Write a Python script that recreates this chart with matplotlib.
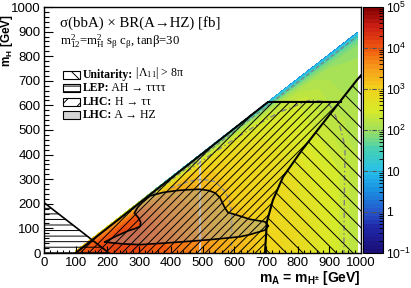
import numpy as np
import matplotlib
matplotlib.use("Agg")
import matplotlib.pyplot as plt
from matplotlib.colors import LinearSegmentedColormap
from matplotlib.patches import Rectangle
from matplotlib.collections import LineCollection
from matplotlib.transforms import IdentityTransform
from matplotlib.ticker import MultipleLocator, FixedLocator

plt.rcParams['font.family'] = 'Liberation Sans'
plt.rcParams['mathtext.default'] = 'regular'
plt.rcParams['hatch.linewidth'] = 0.7

# heat map nodes: columns are m_A, rows are the gap m_A - m_H (GeV)
mA_nodes = [100, 150, 200, 250, 300, 400, 500, 600, 700, 800, 900, 990]
gap_nodes = [92, 98, 108, 125, 150, 200, 300, 400, 500, 600, 700, 800, 900, 990]
# log10( sigma x BR / fb )
log10_xsec = [
    [3.0, 2.9, 2.6, 2.3, 2.0, 1.3, 1.0, 0.8, 0.6, 0.5, 0.4, 0.4],
    [3.6, 3.4, 3.1, 2.8, 2.5, 1.8, 1.5, 1.3, 1.1, 1.0, 0.9, 0.9],
    [3.9, 3.8, 3.6, 3.4, 3.1, 2.4, 2.1, 1.8, 1.6, 1.5, 1.4, 1.3],
    [4.1, 4.0, 3.9, 3.8, 3.7, 3.0, 2.6, 2.3, 2.1, 1.9, 1.8, 1.7],
    [4.1, 4.1, 4.1, 4.1, 4.0, 3.4, 3.0, 2.7, 2.4, 2.2, 2.0, 1.9],
    [4.1, 4.2, 4.2, 4.2, 4.1, 3.6, 3.2, 2.9, 2.6, 2.4, 2.1, 2.0],
    [4.1, 4.2, 4.2, 4.2, 4.1, 3.8, 3.4, 3.0, 2.8, 2.5, 2.2, 2.0],
    [4.1, 4.2, 4.2, 4.2, 4.1, 3.9, 3.5, 3.1, 2.9, 2.6, 2.3, 2.1],
    [4.1, 4.2, 4.2, 4.2, 4.1, 3.9, 3.6, 3.2, 3.0, 2.7, 2.4, 2.1],
    [4.1, 4.2, 4.2, 4.2, 4.1, 3.9, 3.6, 3.3, 3.0, 2.7, 2.5, 2.2],
    [4.1, 4.2, 4.2, 4.2, 4.1, 3.9, 3.6, 3.3, 3.0, 2.8, 2.5, 2.2],
    [4.1, 4.2, 4.2, 4.2, 4.1, 3.9, 3.6, 3.3, 3.0, 2.8, 2.5, 2.2],
    [4.1, 4.2, 4.2, 4.2, 4.1, 3.9, 3.6, 3.3, 3.0, 2.8, 2.5, 2.2],
    [4.1, 4.2, 4.2, 4.2, 4.1, 3.9, 3.6, 3.3, 3.0, 2.8, 2.5, 2.2],
]

# palette (position in the -1..5 decade range)
pal_pos = [0.0, 0.1, 0.17, 0.25, 0.33, 0.42, 0.5, 0.58, 0.67, 0.75, 0.83, 0.92, 1.0]
pal_col = ['#1a0d73', '#1f26a6', '#2659cc', '#1a8ce0', '#26bfeb', '#45cfb4',
           '#a0e05c', '#d8ea2a', '#f2d21a', '#f79e1a', '#f2590f', '#cc1f14', '#800000']

# exclusion regions
lep_mA = [0, 0, 205]
lep_mH = [0, 205, 0]
unit_mA = [697, 700, 703, 722, 754, 814, 893, 987, 1000]
unit_mH = [0, 60, 126, 215, 309, 419, 549, 703, 722]
tautau_mA = [100, 707, 937]
tautau_mH = [0, 614, 614]
hz_mA = [192, 230, 265, 285, 303, 305, 297, 285, 295, 310, 334, 375, 420, 451, 492, 520,
         540, 555, 570, 580, 609, 650, 697, 708, 697, 650, 618, 514, 400, 303, 250, 210]
hz_mH = [45, 70, 90, 98, 108, 125, 145, 162, 185, 205, 232, 246, 254, 257, 259, 254,
         244, 225, 185, 165, 154, 137, 127, 110, 93, 75, 66, 53, 42, 34, 37, 42]

# grey expected / auxiliary curves
exp_hz_mA = [400, 460, 500, 540, 571, 587, 592, 592]
exp_hz_mH = [265, 292, 300, 290, 250, 205, 150, 0]
exp_tt_mA = [450, 533, 596, 681, 744, 839, 893, 912, 934, 950, 948, 946]
exp_tt_mH = [330, 406, 459, 528, 573, 622, 614, 581, 512, 431, 300, 0]
edge_mA = [250, 985]
edge_mH = [145, 878]
vline_mA = [492, 492]
vline_mH = [0, 395]

fig = plt.figure(figsize=(4.11, 2.88), dpi=100)
ax = fig.add_axes([44 / 411, 35 / 288, 317 / 411, 246 / 288])
cax = fig.add_axes([363 / 411, 35 / 288, 20 / 411, 246 / 288])

cmap = LinearSegmentedColormap.from_list('rb', list(zip(pal_pos, pal_col)))
X, G = np.meshgrid(mA_nodes, gap_nodes)
Y = X - G
levels = np.linspace(-1, 5, 61)
cs = ax.contourf(X, Y, np.array(log10_xsec), levels=levels, cmap=cmap, zorder=1)

# grey curves
ax.plot(vline_mA, vline_mH, color='#d0d0d0', lw=1.4, zorder=2)
ax.plot(edge_mA, edge_mH, color='#808080', lw=0.9, ls=(0, (3, 2)), zorder=2)
ax.plot(exp_hz_mA, exp_hz_mH, color='#909090', lw=1.0, ls=(0, (3, 2)), zorder=2)
ax.plot(exp_tt_mA, exp_tt_mH, color='#808080', lw=1.0, ls=(0, (4, 2, 1, 2)), zorder=2)

# LHC A -> HZ
ax.fill(hz_mA, hz_mH, facecolor='#a0a0a0', alpha=0.45, edgecolor='none', zorder=3)

# LHC H -> tautau (region between the diagonal and the unitarity curve),
# hatched with 45 degree lines clipped to the region
tt_x = list(tautau_mA) + [a for a, h in zip(unit_mA[::-1], unit_mH[::-1]) if h < 614]
tt_y = list(tautau_mH) + [h for h in unit_mH[::-1] if h < 614]
tt_patch = ax.fill(tt_x, tt_y, facecolor='none', edgecolor='none', zorder=4)[0]
W, H = fig.bbox.width, fig.bbox.height
offs = np.arange(-H, W, fig.dpi / 12)
segs = [[(o, 0), (o + H, H)] for o in offs]
lc = LineCollection(segs, colors='black', linewidths=0.7, transform=IdentityTransform(), zorder=4)
ax.add_collection(lc, autolim=False)
lc.set_clip_path(tt_patch)

# unitarity
ax.fill(unit_mA + [1000], unit_mH + [0], facecolor='none', edgecolor='black',
        linewidth=0, hatch='\\\\', zorder=4)

# LEP
ax.fill(lep_mA, lep_mH, facecolor='none', edgecolor='black', linewidth=0, hatch='---', zorder=4)

ax.plot(hz_mA + hz_mA[:1], hz_mH + hz_mH[:1], color='black', lw=1.2, zorder=5)
ax.plot(tautau_mA, tautau_mH, color='black', lw=1.5, zorder=5)
ax.plot(unit_mA, unit_mH, color='black', lw=1.5, zorder=5)
ax.plot(lep_mA[1:], lep_mH[1:], color='black', lw=1.2, zorder=5)

ax.set_xlim(0, 1000)
ax.set_ylim(0, 1000)
ax.xaxis.set_major_locator(MultipleLocator(100))
ax.xaxis.set_minor_locator(MultipleLocator(20))
ax.yaxis.set_major_locator(MultipleLocator(100))
ax.yaxis.set_minor_locator(MultipleLocator(20))
ax.tick_params(axis='x', which='major', direction='in', length=5, width=0.8, pad=3, labelsize=9.5)
ax.tick_params(axis='x', which='minor', direction='in', length=2.5, width=0.8)
ax.tick_params(axis='y', which='major', direction='in', length=6.5, width=0.8, pad=2.5, labelsize=9.5)
ax.tick_params(axis='y', which='minor', direction='in', length=3.5, width=0.8)
for s in ax.spines.values():
    s.set_linewidth(1.0)

fig.text(361 / 411, 10 / 288, 'm$_{A}$ = m$_{H^{\\pm}}$ [GeV]', ha='right', va='center',
         fontsize=10, fontweight='bold')
fig.text(7.0 / 411, 274 / 288, 'm$_{H}$ [GeV]', ha='center', va='top', rotation=90,
         fontsize=8.5, fontweight='bold')

# text block and legend
serif = 'Liberation Serif'
ax.text(0.05, 0.935, 'σ(bbA) × BR(A→HZ) [fb]', transform=ax.transAxes, fontfamily=serif,
        fontsize=10.7, va='center', zorder=6)
ax.text(0.05, 0.858, 'm$_{12}^{2}$=m$_{H}^{2}$ s$_{β}$ c$_{β}$, tanβ=30', transform=ax.transAxes,
        fontfamily=serif, fontsize=9.2, va='center', zorder=6)

leg_y = [0.724, 0.671, 0.614, 0.561]
leg_hatch = ['\\\\', '---', '//', None]
leg_face = ['white', 'white', 'white', '#d4d4d4']
leg_bold = ['Unitarity:', 'LEP:', 'LHC:', 'LHC:']
leg_rest = [' |Λ$_{11}$| > 8π', ' AH → ττττ', ' H → ττ', ' A → HZ']
for y, h, fc, b, r in zip(leg_y, leg_hatch, leg_face, leg_bold, leg_rest):
    ax.add_patch(Rectangle((0.060, y - 0.0165), 0.052, 0.033, transform=ax.transAxes,
                           facecolor=fc, edgecolor='black', lw=0.8, hatch=h, zorder=6))
    t = ax.text(0.123, y, b, transform=ax.transAxes, fontfamily=serif, fontsize=8.5,
                fontweight='bold', va='center', zorder=6)
    ax.annotate(r, xy=(1, 0), xycoords=t, va='bottom', ha='left', fontfamily=serif,
                fontsize=8.5, zorder=6)

# colour bar
cb = fig.colorbar(cs, cax=cax)
cb.outline.set_linewidth(0.8)
cax.set_ylim(-1, 5)
cax.yaxis.set_major_locator(FixedLocator([-1, 0, 1, 2, 3, 4, 5]))
cax.set_yticklabels(['10$^{-1}$', '1', '10', '10$^{2}$', '10$^{3}$', '10$^{4}$', '10$^{5}$'])
minors = [d + np.log10(k) for d in range(-1, 5) for k in range(2, 10)]
cax.yaxis.set_minor_locator(FixedLocator(minors))
cax.tick_params(which='major', direction='in', length=0, pad=2, labelsize=8.8)
cax.tick_params(which='minor', direction='in', length=3, width=0.6)
for d in range(0, 5):
    cax.axhline(d, color='#555555', lw=0.8, ls=(0, (4, 1.5, 1, 1.5)))

fig.savefig('out.png', dpi=100)
